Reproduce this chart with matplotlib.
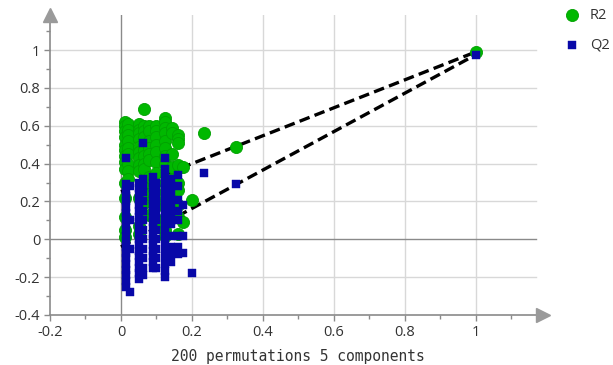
import matplotlib
matplotlib.use("Agg")
import matplotlib.pyplot as plt
from matplotlib.ticker import MultipleLocator, FixedLocator

# ---- data ----
# R2 permutation columns: x position (correlation) and R2 values
r2_col_x = [0.01, 0.02, 0.05, 0.065, 0.08, 0.10, 0.125, 0.145, 0.16, 0.175, 0.20, 0.235, 0.325, 1.0]
r2_col_y = [
    [0.62, 0.60, 0.57, 0.54, 0.50, 0.47, 0.44, 0.41, 0.37, 0.30, 0.22, 0.12, 0.05, 0.01],
    [0.61, 0.58, 0.55, 0.52, 0.48, 0.45, 0.40, 0.36, 0.32],
    [0.61, 0.58, 0.56, 0.53, 0.49, 0.46, 0.43, 0.39, 0.36, 0.22, 0.07, 0.03],
    [0.69, 0.60, 0.57, 0.54, 0.50, 0.47, 0.44, 0.40, 0.37, 0.28, 0.19],
    [0.60, 0.57, 0.52, 0.48, 0.45, 0.42, 0.33, 0.24, 0.13],
    [0.60, 0.57, 0.54, 0.50, 0.46, 0.41, 0.35, 0.20, 0.07],
    [0.64, 0.62, 0.59, 0.56, 0.52, 0.48, 0.44, 0.40, 0.30, 0.25, 0.17, 0.11, 0.05, 0.02],
    [0.59, 0.56, 0.45, 0.38, 0.32, 0.22, 0.11],
    [0.55, 0.53, 0.51, 0.39, 0.30, 0.26, 0.18, 0.12, 0.03],
    [0.38, 0.09],
    [0.21],
    [0.56],
    [0.49],
    [0.99],
]
# Q2 permutation columns
q2_col_x = [0.015, 0.025, 0.05, 0.062, 0.09, 0.10, 0.125, 0.14, 0.16, 0.175, 0.20, 0.235, 0.325, 1.0]
q2_col_y = [
    [0.43, 0.29, 0.26, 0.23, 0.20, 0.17, 0.14, 0.11, 0.08, 0.05, 0.02, -0.01, -0.04, -0.07,
     -0.10, -0.13, -0.16, -0.19, -0.22, -0.25],
    [0.28, 0.10, -0.05, -0.28],
    [0.30, 0.27, 0.24, 0.21, 0.18, 0.15, 0.12, 0.09, 0.06, 0.03, 0.00, -0.03, -0.06, -0.09,
     -0.12, -0.15, -0.18, -0.21],
    [0.51, 0.32, 0.28, 0.25, 0.20, 0.15, 0.10, 0.05, 0.00, -0.05, -0.10, -0.15, -0.19],
    [0.33, 0.30, 0.27, 0.24, 0.21, 0.18, 0.15, 0.12, 0.09, 0.06, 0.03, 0.00, -0.03, -0.06,
     -0.09, -0.12, -0.15],
    [0.30, 0.26, 0.22, 0.18, 0.14, 0.10, 0.05, 0.00, -0.05, -0.10, -0.15],
    [0.43, 0.37, 0.33, 0.30, 0.27, 0.23, 0.19, 0.15, 0.11, 0.07, 0.03, -0.01, -0.05, -0.09,
     -0.13, -0.17, -0.20],
    [0.32, 0.28, 0.24, 0.20, 0.16, 0.12, 0.08, 0.02, -0.04, -0.08, -0.12],
    [0.34, 0.28, 0.21, 0.15, 0.10, 0.02, -0.04, -0.08],
    [0.18, 0.02, -0.07],
    [-0.18],
    [0.35],
    [0.29],
    [0.975],
]
# regression lines: intercept at x=0 and original model value at x=1
r2_line_x = [0.0, 1.0]
r2_line_y = [0.252, 0.99]
q2_line_x = [0.0, 1.0]
q2_line_y = [-0.04, 0.975]

xticks = [-0.2, 0, 0.2, 0.4, 0.6, 0.8, 1]
xtick_labels = ["-0.2", "0", "0.2", "0.4", "0.6", "0.8", "1"]
yticks = [-0.4, -0.2, 0, 0.2, 0.4, 0.6, 0.8, 1]
ytick_labels = ["-0.4", "-0.2", "0", "0.2", "0.4", "0.6", "0.8", "1"]
xlabel = "200 permutations 5 components"

GREEN = "#00b800"
GREEN_EDGE = "#00a000"
BLUE = "#0808a8"
AXIS = "#8a8a8a"
GRID = "#d8d8d8"

r2_x = [x for x, ys in zip(r2_col_x, r2_col_y) for _ in ys]
r2_y = [y for ys in r2_col_y for y in ys]
q2_x = [x for x, ys in zip(q2_col_x, q2_col_y) for _ in ys]
q2_y = [y for ys in q2_col_y for y in ys]

W, H = 613, 365
fig = plt.figure(figsize=(W / 100, H / 100), dpi=100)
ax = fig.add_axes([50 / W, 50 / H, 495 / W, 300 / H])
ax.set_xlim(-0.2, 1.195)
ax.set_ylim(-0.4, 1.185)

# grid
for gx in [0.2, 0.4, 0.6, 0.8, 1.0]:
    ax.plot([gx, gx], [-0.4, 1.185], color=GRID, lw=1, zorder=0)
for gy in [-0.2, 0.2, 0.4, 0.6, 0.8, 1.0]:
    ax.plot([-0.2, 1.17], [gy, gy], color=GRID, lw=1, zorder=0)
# zero lines
ax.plot([0, 0], [-0.4, 1.185], color=AXIS, lw=1, zorder=1)
ax.plot([-0.2, 1.17], [0, 0], color=AXIS, lw=1, zorder=1)

# regression lines
ax.plot(r2_line_x, r2_line_y, color="black", lw=2.4, ls=(0, (3.2, 1.6)), zorder=2)
ax.plot(q2_line_x, q2_line_y, color="black", lw=2.4, ls=(0, (3.2, 1.6)), zorder=2)

# points
ax.scatter(r2_x, r2_y, s=76, marker="o", color=GREEN, edgecolors=GREEN_EDGE,
           linewidths=0.6, zorder=3, label="R2")
ax.scatter(q2_x, q2_y, s=40, marker="s", color=BLUE, edgecolors=BLUE,
           linewidths=0.3, zorder=4, label="Q2")

# spines / axes
for s in ["top", "right"]:
    ax.spines[s].set_visible(False)
for s in ["left", "bottom"]:
    ax.spines[s].set_color(AXIS)
    ax.spines[s].set_linewidth(1.2)
ax.spines["bottom"].set_bounds(-0.2, 1.17)

ax.xaxis.set_major_locator(FixedLocator(xticks))
ax.set_xticklabels(xtick_labels)
ax.xaxis.set_minor_locator(MultipleLocator(0.1))
ax.yaxis.set_major_locator(FixedLocator(yticks))
ax.set_yticklabels(ytick_labels)
ax.yaxis.set_minor_locator(MultipleLocator(0.1))
ax.tick_params(which="both", direction="out", color=AXIS, width=1)
ax.tick_params(which="major", length=4, labelsize=10.5, labelcolor="#333333", pad=3)
ax.tick_params(which="minor", length=3)
for lab in ax.get_xticklabels() + ax.get_yticklabels():
    lab.set_family("Open Sans")

# arrow heads
ax.plot([-0.2], [1.185], marker="^", ms=10, color="#9a9a9a", clip_on=False, zorder=5)
ax.plot([1.19], [-0.4], marker=">", ms=10, color="#9a9a9a", clip_on=False, zorder=5)

ax.set_xlabel(xlabel, family="DejaVu Sans Mono", fontsize=10.5, color="#333333", labelpad=7)

leg = fig.legend(loc="upper left", bbox_to_anchor=(552 / W, 1 - 2 / H), frameon=False,
                 labelspacing=1.0, handletextpad=0.2, borderaxespad=0,
                 prop={"family": "Open Sans", "size": 10.5})
for t in leg.get_texts():
    t.set_color("#333333")

fig.savefig("out.png", dpi=100)
